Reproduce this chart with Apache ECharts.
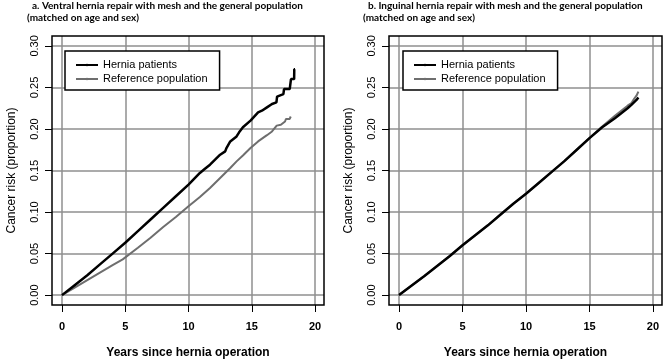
<!DOCTYPE html>
<html>
<head>
<meta charset="utf-8">
<script src="https://cdn.jsdelivr.net/npm/echarts@6/dist/echarts.min.js"></script>
<style>
  html, body { margin: 0; padding: 0; background: #fff; }
  #chart { width: 664px; height: 364px; }
</style>
</head>
<body>
<div id="chart"></div>
<script>
// tick labels
const xTicks = [0, 5, 10, 15, 20];
const yTicks = [0, 0.05, 0.1, 0.15, 0.2, 0.25, 0.3];

// panel a: ventral hernia (cumulative risk by years since operation)
const ventralPatientYears = [0, 1, 2, 3, 4, 5, 6, 7, 8, 9, 10, 10.9, 11.3, 11.7, 12.1, 12.5, 12.9, 13.0, 13.3, 13.8, 14.0, 14.3,
  14.9, 15.5, 15.8, 16.2, 16.6, 16.95, 17.0, 17.5, 17.55, 18.0, 18.05, 18.1, 18.35, 18.36, 18.42];
const ventralPatients = [0, 0.012, 0.024, 0.037, 0.050, 0.063, 0.077, 0.091, 0.105, 0.119, 0.133, 0.147, 0.152, 0.157, 0.163, 0.169, 0.173, 0.177, 0.185, 0.191, 0.196, 0.202,
  0.210, 0.220, 0.222, 0.226, 0.230, 0.232, 0.239, 0.242, 0.248, 0.248, 0.250, 0.260, 0.260, 0.272, 0.272];
const ventralRefYears = [0, 1, 2, 3, 4, 4.8, 6, 7, 8, 9, 10, 10.9, 11.7, 12.5, 13.3, 13.8, 14.3, 14.9, 15.5, 16.2, 16.6, 16.97, 17.3, 17.63, 17.7, 18.0, 18.08];
const ventralReference = [0, 0.009, 0.018, 0.027, 0.036, 0.043, 0.057, 0.069, 0.082, 0.094, 0.107, 0.118, 0.129, 0.141, 0.153, 0.161, 0.168, 0.177, 0.185, 0.1925, 0.197, 0.204, 0.205, 0.209, 0.212, 0.212, 0.215];

// panel b: inguinal hernia
const inguinalYears = [0, 1, 2, 3, 4, 5, 6, 7, 8, 9, 10, 11, 12, 13, 14, 15, 16, 17, 17.5, 18, 18.3, 18.5, 18.7, 18.85];
const inguinalPatients = [0, 0.0115, 0.023, 0.035, 0.047, 0.060, 0.072, 0.084, 0.097, 0.110, 0.122, 0.135, 0.148, 0.161, 0.175, 0.189, 0.202, 0.213, 0.219, 0.225, 0.229, 0.232, 0.235, 0.238];
const inguinalReference = [0, 0.0115, 0.023, 0.035, 0.047, 0.060, 0.072, 0.084, 0.097, 0.110, 0.122, 0.135, 0.148, 0.161, 0.175, 0.189, 0.203, 0.216, 0.222, 0.228, 0.231, 0.236, 0.240, 0.245];

const seriesNames = ['Hernia patients', 'Reference population'];

const pair = (xs, ys) => xs.map((x, i) => [x, ys[i]]);

const font = 'Liberation Sans, Arial, sans-serif';
const gridColor = '#8f8f8f';

function makeX(i) {
  return {
    gridIndex: i, type: 'value', min: -0.79, max: 20.71,
    axisLine: { show: false, onZero: false },
    axisTick: { show: true, customValues: xTicks, length: 7, lineStyle: { color: '#000', width: 1 } },
    axisLabel: { customValues: xTicks, margin: 16, color: '#000', fontFamily: font, fontWeight: 'bold', fontSize: 11 },
    splitLine: { show: true, lineStyle: { color: gridColor, width: 1.5 } },
    name: 'Years since hernia operation', nameLocation: 'middle', nameGap: 42,
    nameTextStyle: { color: '#000', fontFamily: font, fontWeight: 'bold', fontSize: 12 }
  };
}
function makeY(i) {
  return {
    gridIndex: i, type: 'value', min: -0.0119, max: 0.3119,
    axisLine: { show: false, onZero: false },
    axisTick: { show: true, customValues: yTicks, length: 7, lineStyle: { color: '#000', width: 1 } },
    axisLabel: { customValues: yTicks, rotate: 90, margin: 12, color: '#000', fontFamily: font, fontSize: 11,
      formatter: (v) => v.toFixed(2) },
    splitLine: { show: true, lineStyle: { color: gridColor, width: 1.5 } },
    name: 'Cancer risk (proportion)', nameLocation: 'middle', nameGap: 34,
    nameTextStyle: { color: '#000', fontFamily: font, fontSize: 12 }
  };
}
function line(name, data, i, isPatients) {
  const c = isPatients ? '#000' : '#6e6e6e';
  return {
    name, type: 'line', xAxisIndex: i, yAxisIndex: i, data,
    showSymbol: false, symbol: 'none', color: c,
    lineStyle: { width: isPatients ? 2.5 : 2, color: c },
    z: isPatients ? 4 : 3, animation: false
  };
}
function makeLegend(left) {
  return {
    data: seriesNames, orient: 'vertical', left, top: 51,
    itemWidth: 22, itemHeight: 3, itemGap: 2,
    padding: [8, 12, 5, 10],
    borderColor: '#000', borderWidth: 1.5, backgroundColor: '#fff',
    textStyle: { color: '#000', fontFamily: font, fontSize: 11, lineHeight: 12 },
    selectedMode: false
  };
}
const titleStyle = { color: '#000', fontFamily: 'Lato, sans-serif', fontWeight: 'bold', fontSize: 10 };

const chart = echarts.init(document.getElementById('chart'), null, { renderer: 'canvas' });
chart.setOption({
  animation: false,
  backgroundColor: '#fff',
  title: [
    { text: 'a. Ventral hernia repair with mesh and the general population', left: 32, top: 1, padding: 0, textStyle: titleStyle },
    { text: '(matched on age and sex)', left: 27, top: 13, padding: 0, textStyle: titleStyle },
    { text: 'b. Inguinal hernia repair with mesh and the general population', left: 368, top: 1, padding: 0, textStyle: titleStyle },
    { text: '(matched on age and sex)', left: 363, top: 13, padding: 0, textStyle: titleStyle }
  ],
  legend: [makeLegend(65), makeLegend(403)],
  grid: [
    { left: 52, top: 36, width: 272, height: 273, show: true, borderColor: '#000', borderWidth: 1.5, backgroundColor: 'transparent', z: 5 },
    { left: 389, top: 36, width: 273, height: 273, show: true, borderColor: '#000', borderWidth: 1.5, backgroundColor: 'transparent', z: 5 }
  ],
  xAxis: [makeX(0), makeX(1)],
  yAxis: [makeY(0), makeY(1)],
  series: [
    line(seriesNames[1], pair(ventralRefYears, ventralReference), 0, false),
    line(seriesNames[0], pair(ventralPatientYears, ventralPatients), 0, true),
    line(seriesNames[1], pair(inguinalYears, inguinalReference), 1, false),
    line(seriesNames[0], pair(inguinalYears, inguinalPatients), 1, true)
  ]
});
</script>
</body>
</html>
